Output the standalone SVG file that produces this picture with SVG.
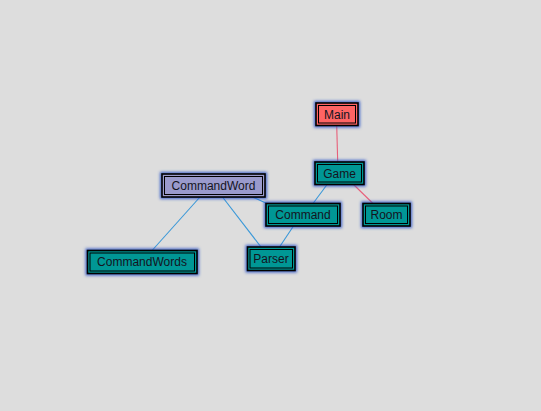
<svg xmlns="http://www.w3.org/2000/svg" width="541" height="411" viewBox="0 0 541 411">
<defs>
<filter id="glow" x="-30%" y="-50%" width="160%" height="200%">
<feGaussianBlur stdDeviation="1.5"/>
</filter>
<style>
.g{fill:none;stroke:#2e55c8;stroke-width:4;stroke-opacity:0.9;filter:url(#glow)}
.o{stroke:#000;stroke-width:1.6}
.i{fill:none;stroke:#000;stroke-width:1}
.teal{fill:#009795}
.red{fill:#ff6464}
.purple{fill:#9a9acc}
.t{font-family:"Liberation Sans",Arial,sans-serif;font-size:12px;fill:#14141e;text-anchor:middle;dominant-baseline:central}
.eb{stroke:#3a98d8;stroke-width:1.1}
.er{stroke:#e8607a;stroke-width:1.1}
</style>
</defs>
<rect width="541" height="411" fill="#dddddd"/>
<g id="connectors">
<line class="er" x1="336.7" y1="125" x2="337.7" y2="162"/>
<line class="er" x1="353" y1="184" x2="373" y2="203.5"/>
<line class="eb" x1="327.5" y1="184" x2="313" y2="203.5"/>
<line class="eb" x1="293.5" y1="226" x2="279.5" y2="247"/>
<line class="eb" x1="222.5" y1="197" x2="261" y2="247"/>
<line class="eb" x1="200" y1="197" x2="152.5" y2="250"/>
<line class="eb" x1="252.5" y1="197" x2="268" y2="204"/>
</g>
<g id="Main">
<rect class="g" x="316" y="103" width="42" height="22.5"/>
<rect class="o red" x="316" y="103" width="42" height="22.5"/>
<rect class="i" x="318.5" y="105.5" width="37" height="17.5"/>
<text class="t" x="337" y="114.5">Main</text>
</g>
<g id="Game">
<rect class="g" x="315" y="162" width="49" height="22.5"/>
<rect class="o teal" x="315" y="162" width="49" height="22.5"/>
<rect class="i" x="317.5" y="164.5" width="44" height="17.5"/>
<text class="t" x="339.5" y="173.5">Game</text>
</g>
<g id="Command">
<rect class="g" x="266" y="203.5" width="74" height="22.5"/>
<rect class="o teal" x="266" y="203.5" width="74" height="22.5"/>
<rect class="i" x="268.5" y="206" width="69" height="17.5"/>
<text class="t" x="303" y="215">Command</text>
</g>
<g id="Room">
<rect class="g" x="363" y="203.5" width="47" height="22.5"/>
<rect class="o teal" x="363" y="203.5" width="47" height="22.5"/>
<rect class="i" x="365.5" y="206" width="42" height="17.5"/>
<text class="t" x="386.5" y="215">Room</text>
</g>
<g id="CommandWord">
<rect class="g" x="162" y="174" width="103" height="23"/>
<rect class="o purple" x="162" y="174" width="103" height="23"/>
<rect class="i" x="164.5" y="176.5" width="98" height="18"/>
<text class="t" x="213.5" y="185.5">CommandWord</text>
</g>
<g id="CommandWords">
<rect class="g" x="87.5" y="250.5" width="109.5" height="23"/>
<rect class="o teal" x="87.5" y="250.5" width="109.5" height="23"/>
<rect class="i" x="90" y="253" width="104.5" height="18"/>
<text class="t" x="142" y="262">CommandWords</text>
</g>
<g id="Parser">
<rect class="g" x="247.5" y="247" width="47.5" height="23.5"/>
<rect class="o teal" x="247.5" y="247" width="47.5" height="23.5"/>
<rect class="i" x="250" y="249.5" width="42.5" height="18.5"/>
<text class="t" x="271" y="259">Parser</text>
</g>
</svg>
